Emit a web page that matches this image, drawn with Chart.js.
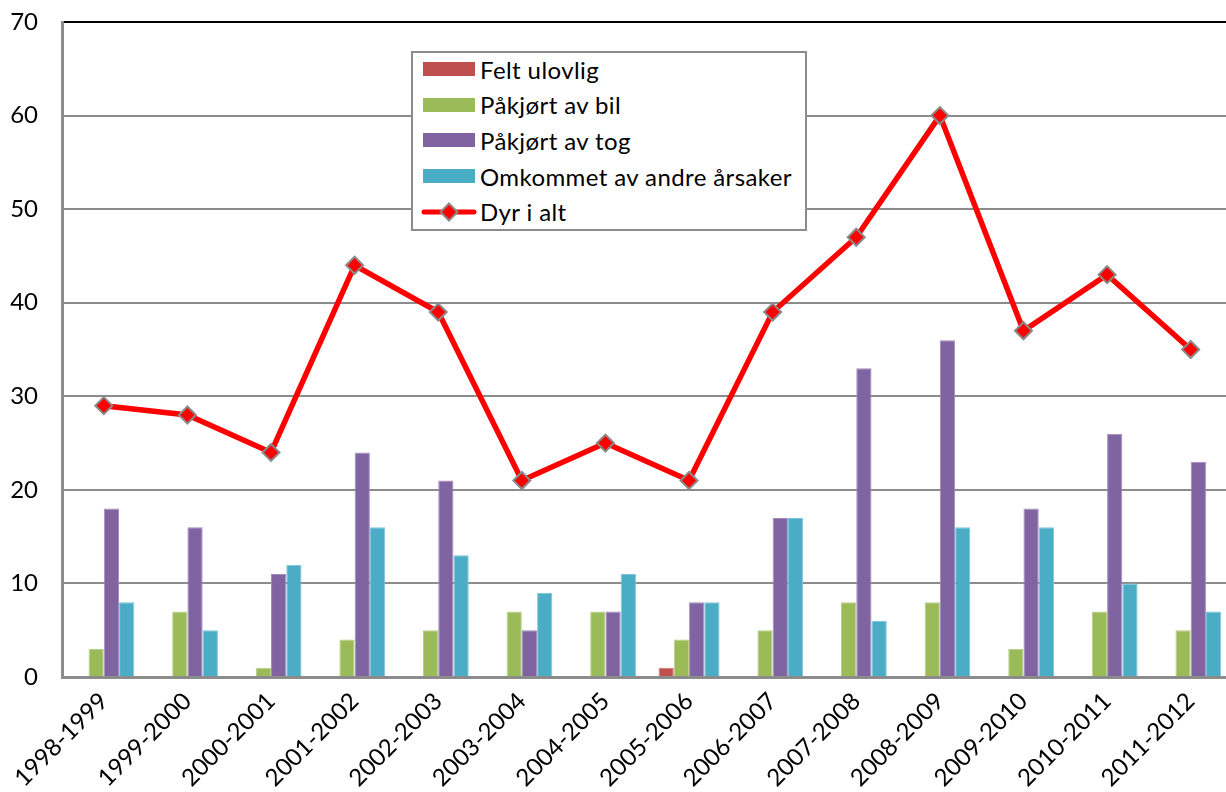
<!DOCTYPE html>
<html>
<head>
<meta charset="utf-8">
<script src="https://cdn.jsdelivr.net/npm/chart.js@4/dist/chart.umd.min.js"></script>
<style>
  html, body { margin: 0; padding: 0; background: #fff; overflow: hidden; }
  #wrap { position: relative; width: 1243px; height: 792px; }
  #legend {
    position: absolute; left: 411px; top: 51px; width: 392px; height: 176px;
    border: 2px solid #8c8c8c; background: #fff; box-sizing: content-box;
    font-family: Lato, "Open Sans", sans-serif; font-size: 24px; letter-spacing: 0.4px; color: #000;
  }
  .item { position: absolute; left: 10px; height: 36px; display: flex; align-items: center; white-space: nowrap; }
  .sw { width: 52px; height: 14px; margin-right: 5px; flex: none; }
  .ln { width: 56px; height: 20px; margin-right: 3px; margin-left: -2px; flex: none; }
</style>
</head>
<body>
<div id="wrap">
  <canvas id="c" width="1243" height="792"></canvas>
  <div id="legend"></div>
</div>
<script>
const seasons = ['1998-1999','1999-2000','2000-2001','2001-2002','2002-2003','2003-2004','2004-2005',
                 '2005-2006','2006-2007','2007-2008','2008-2009','2009-2010','2010-2011','2011-2012'];
const feltUlovlig = [0,0,0,0,0,0,0,1,0,0,0,0,0,0];
const paakjortBil = [3,7,1,4,5,7,7,4,5,8,8,3,7,5];
const paakjortTog = [18,16,11,24,21,5,7,8,17,33,36,18,26,23];
const omkommetAndre = [8,5,12,16,13,9,11,8,17,6,16,16,10,7];
const dyrIAlt = [29,28,24,44,39,21,25,21,39,47,60,37,43,35];
const yTicks = [0,10,20,30,40,50,60,70];

const FONT = 'Lato, "Open Sans", sans-serif';

const barSet = (label, data, color, edge) => ({
  type: 'bar', label, data, backgroundColor: color,
  borderColor: edge, borderWidth: 1,
  order: 2, categoryPercentage: 0.73, barPercentage: 1.0
});

const chart = new Chart(document.getElementById('c'), {
  data: {
    labels: seasons,
    datasets: [
      barSet('Felt ulovlig', feltUlovlig, '#C0504D', '#d27a78'),
      barSet('Påkjørt av bil', paakjortBil, '#9BBB59', '#b6d08a'),
      barSet('Påkjørt av tog', paakjortTog, '#8064A2', '#a08cbd'),
      barSet('Omkommet av andre årsaker', omkommetAndre, '#4BACC6', '#7cc5d8'),
      {
        type: 'line', label: 'Dyr i alt', data: dyrIAlt,
        borderColor: '#FF0000', borderWidth: 5.5, tension: 0,
        pointStyle: 'rectRot', pointRadius: 8.5, pointHoverRadius: 8.5,
        pointBackgroundColor: '#FF0000', pointBorderColor: '#8a8a8a', pointBorderWidth: 2,
        order: 1
      }
    ]
  },
  options: {
    responsive: false,
    animation: false,
    layout: { padding: 0 },
    plugins: { legend: { display: false }, tooltip: { enabled: false } },
    scales: {
      x: {
        offset: true,
        grid: { display: false, drawTicks: false },
        border: { display: true, color: '#8c8c8c', width: 3 },
        ticks: {
          maxRotation: 45, minRotation: 45, padding: 10,
          color: '#000', font: { family: FONT, size: 24 }
        },
        afterFit: s => { s.height = 115; }
      },
      y: {
        min: 0, max: 70,
        afterBuildTicks: s => { s.ticks = yTicks.map(v => ({ value: v })); },
        grid: {
          drawTicks: false, lineWidth: 2,
          color: ctx => (ctx.tick && ctx.tick.value === 70) ? '#000' : '#8c8c8c'
        },
        border: { display: true, color: '#8c8c8c', width: 3 },
        ticks: { padding: 24, color: '#000', font: { family: FONT, size: 24 } },
        afterFit: s => { s.width = 62; s.paddingTop = 22; s.paddingBottom = 14; }
      }
    }
  }
});

// Legend box built from the chart's datasets
const legend = document.getElementById('legend');
chart.data.datasets.forEach((ds, i) => {
  const row = document.createElement('div');
  row.className = 'item';
  row.style.top = (-2 + i * 35.7) + 'px';
  if (ds.type === 'line') {
    const cv = document.createElement('canvas');
    cv.width = 56; cv.height = 20; cv.className = 'ln';
    const g = cv.getContext('2d');
    g.strokeStyle = ds.borderColor; g.lineWidth = 5; g.lineCap = 'round';
    g.beginPath(); g.moveTo(3, 10); g.lineTo(53, 10); g.stroke();
    g.beginPath(); g.moveTo(28, 1.5); g.lineTo(36.5, 10); g.lineTo(28, 18.5); g.lineTo(19.5, 10); g.closePath();
    g.fillStyle = ds.pointBackgroundColor; g.fill();
    g.strokeStyle = ds.pointBorderColor; g.lineWidth = 2; g.stroke();
    row.appendChild(cv);
  } else {
    const sw = document.createElement('div');
    sw.className = 'sw'; sw.style.background = ds.backgroundColor;
    row.appendChild(sw);
  }
  const t = document.createElement('span');
  t.textContent = ds.label;
  row.appendChild(t);
  legend.appendChild(row);
});
</script>
</body>
</html>
